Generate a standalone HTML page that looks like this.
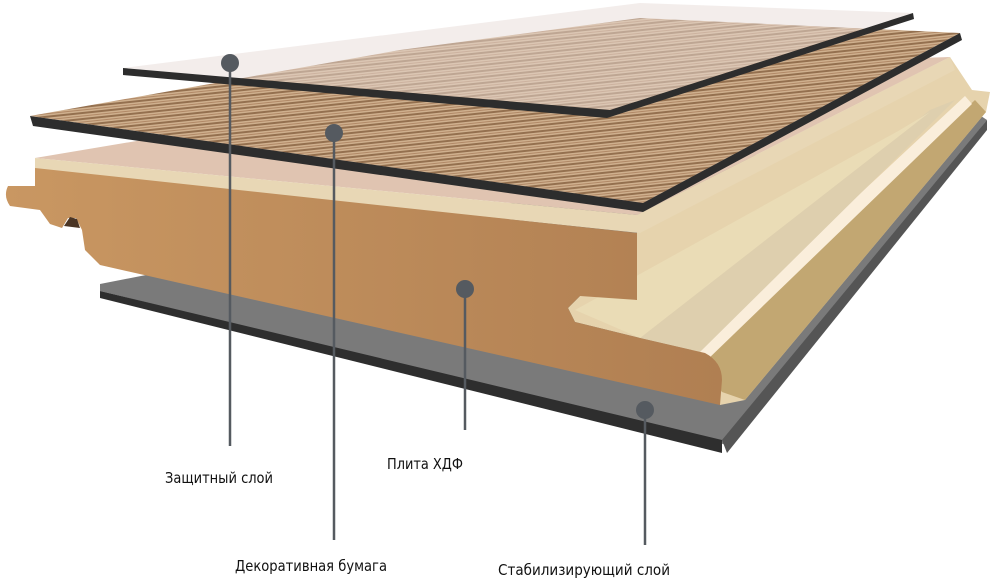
<!DOCTYPE html>
<html><head><meta charset="utf-8"><style>
html,body{margin:0;padding:0;background:#fff;width:1000px;height:579px;overflow:hidden}
svg{display:block}
text{font-family:"DejaVu Sans","Liberation Sans",sans-serif;font-size:15px;fill:#111}
</style></head><body>
<svg width="1000" height="579" viewBox="0 0 1000 579" xmlns="http://www.w3.org/2000/svg">
<defs>
<pattern id="wood" width="40" height="6" patternUnits="userSpaceOnUse" patternTransform="rotate(-6)">
<rect width="40" height="6" fill="#cfb08e"/>
<rect y="0" width="40" height="2" fill="#94704f"/>
<rect y="3.5" width="40" height="1" fill="#b08866"/>
</pattern>
<linearGradient id="brown" x1="0" x2="1" y1="0" y2="0">
<stop offset="0" stop-color="#c99762"/><stop offset="1" stop-color="#b07f52"/>
</linearGradient>
</defs>

<polygon points="100,284 975,112 987,120 727,445 100,291" fill="#7a7a7a"/>
<polygon points="100,291 722,440 722,453 100,298" fill="#2e2e2e"/>
<polygon points="722,440 987,120 987,130 727,453" fill="#555"/>

<polygon points="637,215 950,57 972,90 990,92 986,112 745,400 720,405 705,353 640,338 575,322 568,308 580,296 637,296" fill="#e6d3ad"/>
<polygon points="700,360 975,100 986,112 745,400 722,392" fill="#c2a772"/>
<polygon points="690,352 965,96 972,104 705,362" fill="#faeedb"/>
<polygon points="640,338 930,110 955,100 700,352" fill="#decfae"/>
<polygon points="575,310 900,130 930,112 640,338" fill="#eadcb6"/>

<polygon points="35,158 560,70 950,57 637,215" fill="#e0c4b1"/>
<polygon points="35,158 637,215 950,57 955,70 640,233 35,170" fill="#e8d7b5"/>

<path d="M35,168 L637,233 L637,300 L580,296 L568,308 L575,322 L640,338 L705,353 Q722,362 722,380 L720,405 L100,265 L85,250 L82,230 L76,218 L68,218 L62,228 L50,224 L40,210 L10,206 Q3,196 8,186 L35,186 Z" fill="url(#brown)"/>
<polygon points="64,226 70,217 77,219 80,228" fill="#4a3525"/>

<polygon points="30,116 400,50 640,18 960,33 643,203" fill="url(#wood)"/>
<polygon points="30,116 643,203 960,33 962,40 643,212 33,126" fill="#2d2d2d"/>

<polygon points="123,68 640,3 913,13 610,110" fill="#e8dcd8" fill-opacity="0.5"/>
<polygon points="123,68 610,110 913,13 914,19 607,118 123,75" fill="#2d2d2d"/>

<g stroke="#555a60" stroke-width="2.5">
<line x1="230" y1="63" x2="230" y2="446"/>
<line x1="334" y1="133" x2="334" y2="540"/>
<line x1="465" y1="289" x2="465" y2="430"/>
<line x1="645" y1="410" x2="645" y2="545"/>
</g>
<g fill="#555a60">
<circle cx="230" cy="63" r="9"/>
<circle cx="334" cy="133" r="9"/>
<circle cx="465" cy="289" r="9"/>
<circle cx="645" cy="410" r="9"/>
</g>

<text x="165" y="483" textLength="108" lengthAdjust="spacingAndGlyphs">Защитный слой</text>
<text x="387" y="469" textLength="76" lengthAdjust="spacingAndGlyphs">Плита ХДФ</text>
<text x="235" y="571" textLength="152" lengthAdjust="spacingAndGlyphs">Декоративная бумага</text>
<text x="498" y="575" textLength="172" lengthAdjust="spacingAndGlyphs">Стабилизирующий слой</text>
</svg>
</body></html>
